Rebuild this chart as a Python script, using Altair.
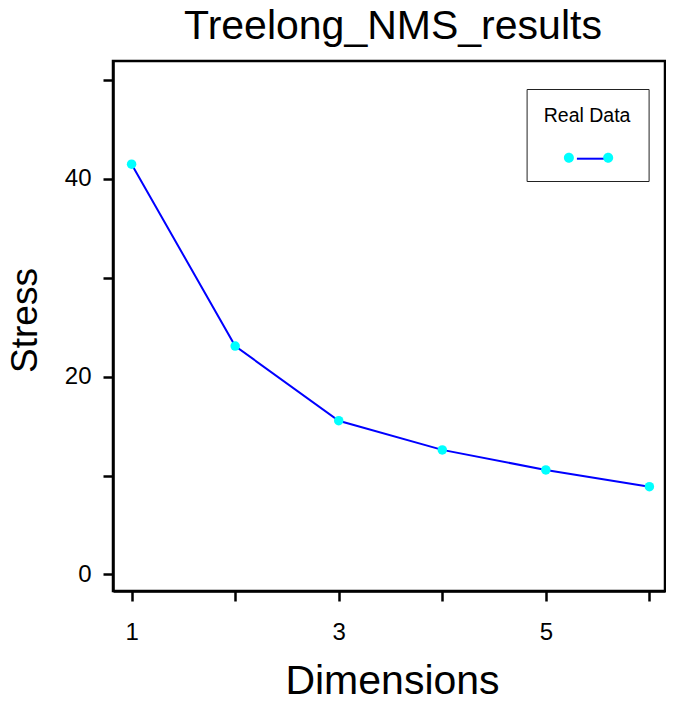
import altair as alt
import pandas as pd

# data
dimensions = [1, 2, 3, 4, 5, 6]
stress = [41.5, 23.1, 15.55, 12.6, 10.57, 8.88]
series_name = "Real Data"

x_ticks = [1, 2, 3, 4, 5, 6]
y_ticks = [0, 10, 20, 30, 40, 50]

df = pd.DataFrame({
    "Dimensions": dimensions,
    "Stress": stress,
    "s1": [series_name] * len(dimensions),
    "s2": [series_name] * len(dimensions),
})

FONT = "Liberation Sans"

x_enc = alt.X(
    "Dimensions:Q",
    scale=alt.Scale(domain=[0.8204, 6.1506], nice=False, zero=False),
    axis=alt.Axis(
        values=x_ticks,
        labelExpr="datum.value % 2 == 1 ? datum.label : ''",
        title="Dimensions",
        titleFontSize=41,
        titleFontWeight="normal",
        titleX=279,
        titleY=102,
        titleBaseline="alphabetic",
        titleAlign="center",
        labelPadding=19,
        labelFlush=False,
        labelOverlap=False,
    ),
)
y_enc = alt.Y(
    "Stress:Q",
    scale=alt.Scale(domain=[-1.67, 51.93], nice=False, zero=False),
    axis=alt.Axis(
        values=y_ticks,
        labelExpr="datum.value % 20 == 0 ? datum.label : ''",
        title="Stress",
        titleFontSize=37,
        titleFontWeight="normal",
        titleX=-77,
        titleY=259,
        titleAngle=270,
        titleBaseline="alphabetic",
        titleAlign="center",
        labelPadding=12,
        labelFlush=False,
        labelOverlap=False,
    ),
)

line_path = "M0.28,0L3.21,0"
circ_path = ("M-0.72,0A0.5,0.5 0 1,0 0.28,0A0.5,0.5 0 1,0 -0.72,0Z"
             "M3.21,0A0.5,0.5 0 1,0 4.21,0A0.5,0.5 0 1,0 3.21,0Z")

legend_common = dict(
    orient="none",
    legendX=413.6,
    legendY=28,
    title=series_name,
    titleFontSize=19.5,
    titleFontWeight="normal",
    titleFont=FONT,
    titlePadding=21.7,
    titleAnchor="middle",
    padding=17.5,
    symbolSize=400,
    labelExpr="''",
    labelFontSize=8,
    labelOffset=0,
)

line = alt.Chart(df).mark_line(strokeWidth=2).encode(
    x=x_enc,
    y=y_enc,
    stroke=alt.Stroke(
        "s1:N",
        scale=alt.Scale(range=["#0000FF"]),
        legend=alt.Legend(
            symbolType=line_path,
            symbolStrokeWidth=2,
            strokeColor="#222222",
            fillColor="white",
            titleColor="black",
            **legend_common,
        ),
    ),
)

points = alt.Chart(df).mark_point(filled=True, size=90, opacity=1).encode(
    x=x_enc,
    y=y_enc,
    fill=alt.Fill(
        "s2:N",
        scale=alt.Scale(range=["#00FFFF"]),
        legend=alt.Legend(
            symbolType=circ_path,
            symbolStrokeWidth=0,
            symbolOpacity=1,
            titleColor="transparent",
            **legend_common,
        ),
    ),
)

chart = alt.layer(line, points).properties(
    width=552,
    height=530,
    title=alt.TitleParams(
        "Treelong_NMS_results",
        fontSize=41,
        fontWeight="normal",
        font=FONT,
        anchor="middle",
        offset=13,
        dx=4,
        color="black",
    ),
    autosize=alt.AutoSizeParams(type="none"),
    padding={"left": 105, "top": 53, "right": 1, "bottom": 103},
).configure(
    font=FONT,
).configure_view(
    stroke="black",
    strokeWidth=2.5,
).configure_axis(
    grid=False,
    domainColor="black",
    domainWidth=2.5,
    tickColor="black",
    tickWidth=2.5,
    tickSize=10,
    labelFontSize=24,
    labelColor="black",
    labelFont=FONT,
    titleFont=FONT,
    titleColor="black",
)

chart.save("out.html", embed_options={"renderer": "svg", "actions": False})
